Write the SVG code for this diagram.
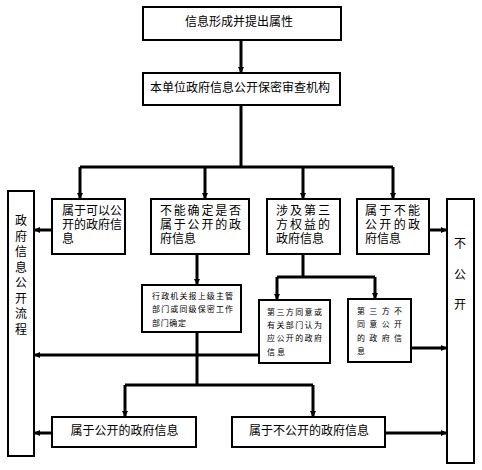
<svg xmlns="http://www.w3.org/2000/svg" width="482" height="470" viewBox="0 0 482 470">
<style>
.box{fill:#fff;stroke:#000;stroke-width:2}
.t{font-family:"Liberation Sans","Noto Sans CJK SC",sans-serif;font-size:12px;fill:#000}
.s{font-family:"Liberation Sans","Noto Sans CJK SC",sans-serif;font-size:8px;fill:#000}
.c{text-anchor:middle}
.ln{fill:none;stroke:#000;stroke-width:3}
.ar{fill:none;stroke:#000;stroke-width:3;marker-end:url(#ah)}
</style>
<defs>
<marker id="ah" markerUnits="userSpaceOnUse" markerWidth="7" markerHeight="7" refX="6" refY="3.5" orient="auto">
<path d="M0,0.5 L6,3.5 L0,6.5 z" fill="#000"/>
</marker>
</defs>
<rect width="482" height="470" fill="#fff"/>
<g id="connectors">
<path class="ar" d="M241,40 V73"/>
<path class="ln" d="M241,105 V167 M80,167 H393"/>
<path class="ar" d="M80,167 V199"/>
<path class="ar" d="M205,167 V199"/>
<path class="ar" d="M303,167 V199"/>
<path class="ar" d="M393,167 V199"/>
<path class="ar" d="M52,230 H34"/>
<path class="ar" d="M429,230 H447"/>
<path class="ar" d="M197,254 V285"/>
<path class="ln" d="M303,254 V277 M277,277 H375"/>
<path class="ar" d="M277,277 V300"/>
<path class="ar" d="M375,277 V299"/>
<path class="ln" d="M197,332 V385 M125,385 H313"/>
<path class="ar" d="M125,385 V417"/>
<path class="ar" d="M313,385 V417"/>
<path class="ar" d="M259,355 H34"/>
<path class="ar" d="M411,348 H447"/>
<path class="ar" d="M52,433 H34"/>
<path class="ar" d="M385,433 H447"/>
</g>
<g id="n1"><rect class="box" x="143" y="7" width="198" height="33"/><text class="t c" x="239" y="25.5">信息形成并提出属性</text></g>
<g id="n2"><rect class="box" x="143" y="73" width="197" height="32"/><text class="t c" x="240" y="91.5">本单位政府信息公开保密审查机构</text></g>
<g id="na"><rect class="box" x="52" y="199" width="73" height="55"/>
<text class="t" x="62" y="215" textLength="60" lengthAdjust="spacing">属于可以公</text>
<text class="t" x="62" y="229" textLength="60" lengthAdjust="spacing">开的政府信</text>
<text class="t" x="62" y="243">息</text></g>
<g id="nb"><rect class="box" x="151" y="199" width="98" height="55"/>
<text class="t" x="160" y="215" textLength="81" lengthAdjust="spacing">不能确定是否</text>
<text class="t" x="160" y="229" textLength="81" lengthAdjust="spacing">属于公开的政</text>
<text class="t" x="160" y="243">府信息</text></g>
<g id="nc"><rect class="box" x="267" y="199" width="73" height="55"/>
<text class="t" x="276" y="215" textLength="54" lengthAdjust="spacing">涉及第三</text>
<text class="t" x="276" y="229" textLength="54" lengthAdjust="spacing">方权益的</text>
<text class="t" x="276" y="243">政府信息</text></g>
<g id="nd"><rect class="box" x="357" y="199" width="72" height="55"/>
<text class="t" x="365" y="215" textLength="55" lengthAdjust="spacing">属于不能</text>
<text class="t" x="365" y="229" textLength="55" lengthAdjust="spacing">公开的政</text>
<text class="t" x="365" y="243">府信息</text></g>
<g id="left"><rect class="box" x="8" y="191" width="26" height="265"/>
<text class="t c" x="21" y="225">政</text>
<text class="t c" x="21" y="240.5">府</text>
<text class="t c" x="21" y="256">信</text>
<text class="t c" x="21" y="271.5">息</text>
<text class="t c" x="21" y="287">公</text>
<text class="t c" x="21" y="302.5">开</text>
<text class="t c" x="21" y="318">流</text>
<text class="t c" x="21" y="333.5">程</text></g>
<g id="right"><rect class="box" x="447" y="199" width="27" height="264"/>
<text class="t c" x="460" y="247.5">不</text>
<text class="t c" x="460" y="279">公</text>
<text class="t c" x="460" y="308.5">开</text></g>
<g id="s1"><rect class="box" x="142" y="285" width="99" height="47"/>
<text class="s" x="152" y="299" textLength="81" lengthAdjust="spacing">行政机关报上级主管</text>
<text class="s" x="152" y="311.5" textLength="81" lengthAdjust="spacing">部门或同级保密工作</text>
<text class="s" x="152" y="326" textLength="34" lengthAdjust="spacing">部门确定</text></g>
<g id="s2"><rect class="box" x="259" y="300" width="71" height="63"/>
<text class="s" x="267" y="315" textLength="55" lengthAdjust="spacing">第三方同意或</text>
<text class="s" x="267" y="328" textLength="55" lengthAdjust="spacing">有关部门认为</text>
<text class="s" x="267" y="341" textLength="55" lengthAdjust="spacing">应公开的政府</text>
<text class="s" x="267" y="355" textLength="18" lengthAdjust="spacing">信息</text></g>
<g id="s3"><rect class="box" x="348" y="299" width="63" height="63"/>
<text class="s" x="357" y="314" textLength="45" lengthAdjust="spacing">第三方不</text>
<text class="s" x="357" y="327" textLength="45" lengthAdjust="spacing">同意公开</text>
<text class="s" x="357" y="341" textLength="45" lengthAdjust="spacing">的政府信</text>
<text class="s" x="357" y="354">息</text></g>
<g id="pub"><rect class="box" x="52" y="417" width="144" height="30"/><text class="t c" x="124.5" y="434.5">属于公开的政府信息</text></g>
<g id="nonpub"><rect class="box" x="232" y="417" width="153" height="30"/><text class="t c" x="309" y="434.5">属于不公开的政府信息</text></g>
</svg>
